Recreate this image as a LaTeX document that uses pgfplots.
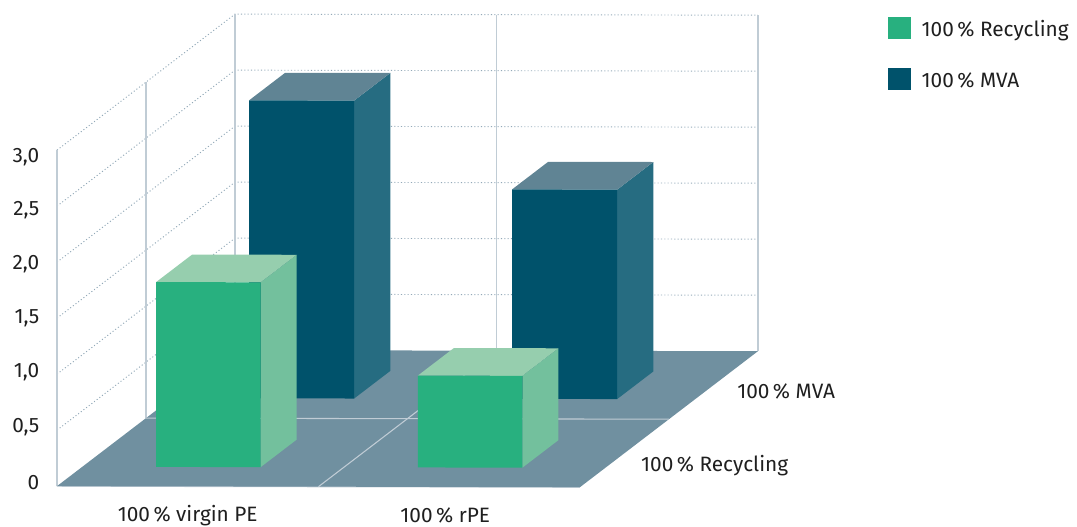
\documentclass[border=0pt]{standalone}
\usepackage{pgfplots}
\pgfplotsset{compat=1.18}
\usepackage{fontspec}
\setmainfont{Fira Sans}
\definecolor{grnF}{HTML}{28B07F}
\definecolor{grnS}{HTML}{73C09D}
\definecolor{grnT}{HTML}{96CEAE}
\definecolor{navF}{HTML}{00526B}
\definecolor{navS}{HTML}{266C81}
\definecolor{navT}{HTML}{608494}
\definecolor{floorC}{HTML}{7090A0}
\definecolor{wallC}{HTML}{C0CCD5}
\definecolor{dotC}{HTML}{93A9B8}
% cuboid: x0, x1, y0, y1, value, front, side and top colours
\newcommand{\cuboid}[8]{%
  \addplot3[fill=#7,draw=none,forget plot] coordinates {(#2,#3,0) (#2,#4,0) (#2,#4,#5) (#2,#3,#5)};
  \addplot3[fill=#8,draw=none,forget plot] coordinates {(#1,#3,#5) (#2,#3,#5) (#2,#4,#5) (#1,#4,#5)};
  \addplot3[fill=#6,draw=none,forget plot] coordinates {(#1,#3,0) (#2,#3,0) (#2,#3,#5) (#1,#3,#5)};
}
% dotted level on the back and left walls
\newcommand{\level}[1]{%
  \addplot3[draw=dotC,line width=0.7pt,dash pattern=on 0.8pt off 1.7pt,forget plot] coordinates {(0,0,#1) (0,2,#1) (2,2,#1)};
}
\newcommand{\post}[3]{%
  \addplot3[draw=wallC,line width=#3,forget plot] coordinates {(#1,#2,0) (#1,#2,3)};
}
\begin{document}
\begin{tikzpicture}
\path[use as bounding box] (0,0) rectangle (807.75pt,394.5pt);
\begin{axis}[
  at={(42.75pt,29.9pt)}, anchor=origin,
  x={(196.1pt,-0.4pt)}, y={(66.75pt,51pt)}, z={(0pt,84pt)},
  xmin=0, xmax=2, ymin=0, ymax=2, zmin=0, zmax=3,
  clip=false,
  axis line style={draw=none},
  tick style={draw=none},
  major tick length=0pt,
  xtick={0.5,1.485}, xticklabels={100\,\% virgin PE,100\,\% rPE},
  ytick={0.46,1.54}, yticklabels={100\,\% Recycling,100\,\% MVA},
  ztick={0.054,0.545,1.036,1.518,2.0,2.482,2.955},
  zticklabels={0,{0,5},{1,0},{1,5},{2,0},{2,5},{3,0}},
  tick label style={font=\fontsize{15.6pt}{18pt}\selectfont, text=black!88},
  xticklabel style={anchor=center, text height=11pt, text depth=3.5pt, xshift=0pt, yshift=-22.6pt},
  yticklabel style={anchor=west, xshift=11.7pt, yshift=-7pt},
  zticklabel style={anchor=east, xshift=-9.75pt, yshift=-1.5pt},
  legend style={at={(1.186,0.9945)}, anchor=north west, draw=none, fill=none,
    font=\fontsize{15.6pt}{18pt}\selectfont, text=black!88,
    row sep=20.6pt, inner sep=0pt, outer sep=0pt,
    nodes={inner sep=0pt}},
  legend cell align=left,
  legend image code/.code={
    \path[draw=none,fill=none] (0pt,-8.25pt) rectangle (25pt,8.25pt);
    \fill[#1,draw=none] (0pt,-6.75pt) rectangle (17.25pt,9.75pt);},
]
\addlegendimage{fill=grnF}
\addlegendentry{100\,\% Recycling}
\addlegendimage{fill=navF}
\addlegendentry{100\,\% MVA}

% walls
\level{0.5}\level{1.0}\level{1.5}\level{2.0}\level{2.5}\level{3.0}
\post{0}{0}{1.2pt}
\post{0}{1}{0.9pt}
\post{0}{2}{0.9pt}
\post{1}{2}{0.9pt}
\post{2}{2}{1.2pt}
\addplot3[draw=wallC,line width=0.9pt,forget plot] coordinates {(0,0,0) (2,0,0)};

% floor with its dividing lines
\addplot3[fill=floorC,draw=none,forget plot] coordinates {(0,0,0) (2,0,0) (2,2,0) (0,2,0)};
\addplot3[draw=wallC,line width=0.8pt,forget plot] coordinates {(0,1,0) (2,1,0)};
\addplot3[draw=wallC,line width=0.8pt,forget plot] coordinates {(1,0,0) (1,2,0)};

% back row, then front row
\cuboid{0.294}{0.696}{1.294}{1.70}{2.66}{navF}{navS}{navT}
\cuboid{1.300}{1.702}{1.294}{1.70}{1.87}{navF}{navS}{navT}
\cuboid{0.282}{0.682}{0.285}{0.69}{1.65}{grnF}{grnS}{grnT}
\cuboid{1.283}{1.683}{0.285}{0.69}{0.82}{grnF}{grnS}{grnT}
\end{axis}
\end{tikzpicture}
\end{document}
